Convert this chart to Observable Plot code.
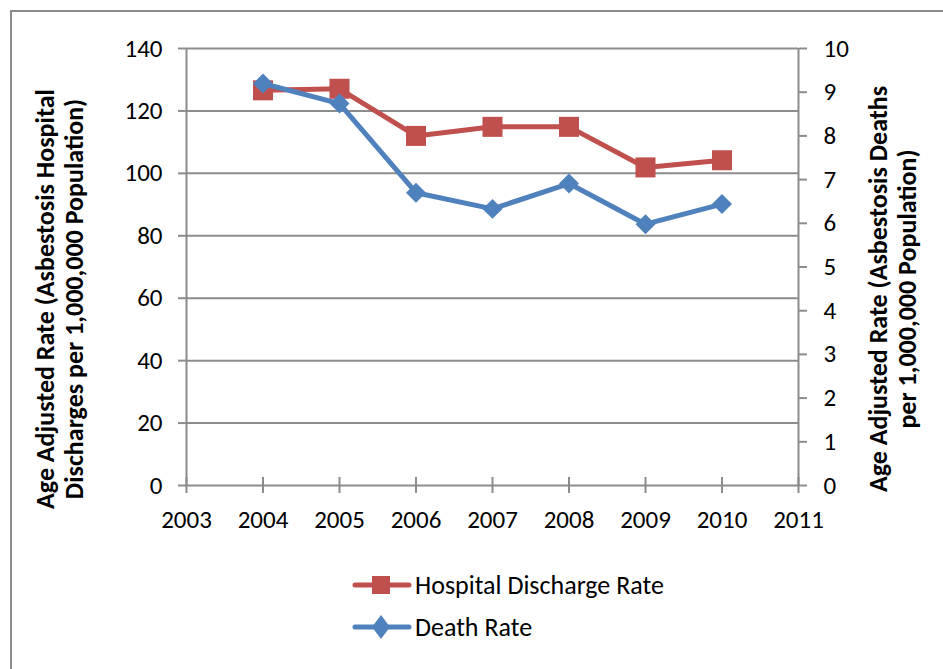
<!DOCTYPE html>
<html>
<head>
<meta charset="utf-8">
<script src="https://cdn.jsdelivr.net/npm/d3@7"></script>
<script src="https://cdn.jsdelivr.net/npm/@observablehq/plot@0.6"></script>
<style>
  html, body { margin: 0; padding: 0; background: #fff; overflow: hidden; }
  body { width: 943px; height: 669px; position: relative; font-family: Carlito, Lato, sans-serif; }
  #chart { position: absolute; left: 0; top: 0; }
  #frame { position: absolute; left: 10px; top: 10px; width: 1000px; height: 800px;
           border-left: 2px solid #8c8c8c; border-top: 2px solid #8c8c8c; pointer-events: none; }
  .legend-row { position: absolute; left: 352px; height: 30px; display: flex; align-items: center;
                font-size: 26px; color: #000; white-space: nowrap; }
  .legend-row svg { display: block; margin-right: 3px; }
</style>
</head>
<body>
<div id="chart"></div>
<div id="legend"></div>
<div id="frame"></div>
<script>
// ---- data ----
const years = [2004, 2005, 2006, 2007, 2008, 2009, 2010];
const hospitalRate = [126.6, 127.1, 112.0, 114.9, 114.9, 101.9, 104.2];
const deathRate = [9.20, 8.74, 6.70, 6.33, 6.91, 5.98, 6.44];
const xTicks = [2003, 2004, 2005, 2006, 2007, 2008, 2009, 2010, 2011];
const leftTicks = [0, 20, 40, 60, 80, 100, 120, 140];
const rightTicks = [0, 1, 2, 3, 4, 5, 6, 7, 8, 9, 10];
const seriesNames = ["Hospital Discharge Rate", "Death Rate"];
const seriesColors = ["#C0504D", "#4F81BD"];
const leftTitle = "Age Adjusted Rate (Asbestosis Hospital\nDischarges per 1,000,000 Population)";
const rightTitle = "Age Adjusted Rate (Asbestosis Deaths\nper 1,000,000 Population)";

// ---- derived tables ----
const leftMax = 140, rightMax = 10;
const ratio = leftMax / rightMax;
const hospital = years.map((y, i) => ({year: y, value: hospitalRate[i]}));
const death = years.map((y, i) => ({year: y, value: deathRate[i]}));

const gray = "#8c8c8c";
const font = "Carlito, Lato, sans-serif";

const chart = Plot.plot({
  width: 943,
  height: 555,
  marginLeft: 186,
  marginRight: 145,
  marginTop: 48,
  marginBottom: 70,
  style: {fontFamily: font, background: "transparent", color: "#000", overflow: "visible"},
  x: {domain: [xTicks[0], xTicks[xTicks.length - 1]]},
  y: {domain: [0, leftMax]},
  marks: [
    // gridlines
    Plot.ruleY(leftTicks.slice(1), {stroke: gray, strokeWidth: 2}),
    // axis lines
    Plot.ruleY([0], {stroke: gray, strokeWidth: 2}),
    Plot.ruleX([xTicks[0], xTicks[xTicks.length - 1]], {y1: 0, y2: leftMax, stroke: gray, strokeWidth: 2}),
    // crossing x ticks
    Plot.ruleX(xTicks, {x: d => d, y1: 0, y2: 0, insetTop: -8, insetBottom: -8, stroke: gray, strokeWidth: 2}),
    Plot.axisX({ticks: xTicks, tickFormat: d => String(d), tickSize: 0, tickPadding: 25,
                fontSize: 25, label: null, stroke: gray, fill: "#000"}),
    Plot.axisY({anchor: "left", ticks: leftTicks, tickSize: 8, tickPadding: 16,
                fontSize: 25, label: null, stroke: gray, strokeWidth: 2, fill: "#000"}),
    Plot.axisY(rightTicks.map(d => d * ratio), {anchor: "right", tickFormat: d => String(Math.round(d / ratio)),
                tickSize: 8, tickPadding: 17, fontSize: 25, label: null, stroke: gray, strokeWidth: 2, fill: "#000"}),
    // axis titles
    Plot.text([leftTitle], {frameAnchor: "left", rotate: -90, dx: -127, dy: 32, text: d => d,
               fontSize: 26, fontWeight: "bold", lineHeight: 1.12, textAnchor: "middle", fill: "#000"}),
    Plot.text([rightTitle], {frameAnchor: "right", rotate: -90, dx: 94, dy: 22, text: d => d,
               fontSize: 26, fontWeight: "bold", lineHeight: 1.12, textAnchor: "middle", fill: "#000"}),
    // hospital series
    Plot.line(hospital, {x: "year", y: "value", stroke: seriesColors[0], strokeWidth: 5}),
    Plot.dot(hospital, {x: "year", y: "value", symbol: "square", r: 11.3, fill: seriesColors[0], stroke: "none"}),
    // death series (right axis)
    Plot.line(death, {x: "year", y: d => d.value * ratio, stroke: seriesColors[1], strokeWidth: 5}),
    Plot.dot(death, {x: "year", y: d => d.value * ratio, symbol: "diamond2", r: 9, fill: seriesColors[1], stroke: "none"})
  ]
});
document.getElementById("chart").appendChild(chart);

// ---- legend below the chart ----
const legend = document.getElementById("legend");
const rowTops = [570, 612];
seriesNames.forEach((name, i) => {
  const row = document.createElement("div");
  row.className = "legend-row";
  row.style.top = rowTops[i] + "px";
  const c = seriesColors[i];
  const marker = i === 0
    ? `<rect x="20" y="6" width="18" height="18" fill="${c}"/>`
    : `<polygon points="29,3 38,15 29,27 20,15" fill="${c}"/>`;
  row.innerHTML = `<svg width="60" height="30"><line x1="3" y1="15" x2="57" y2="15" stroke="${c}" stroke-width="5" stroke-linecap="round"/>${marker}</svg><span>${name}</span>`;
  legend.appendChild(row);
});
</script>
</body>
</html>
